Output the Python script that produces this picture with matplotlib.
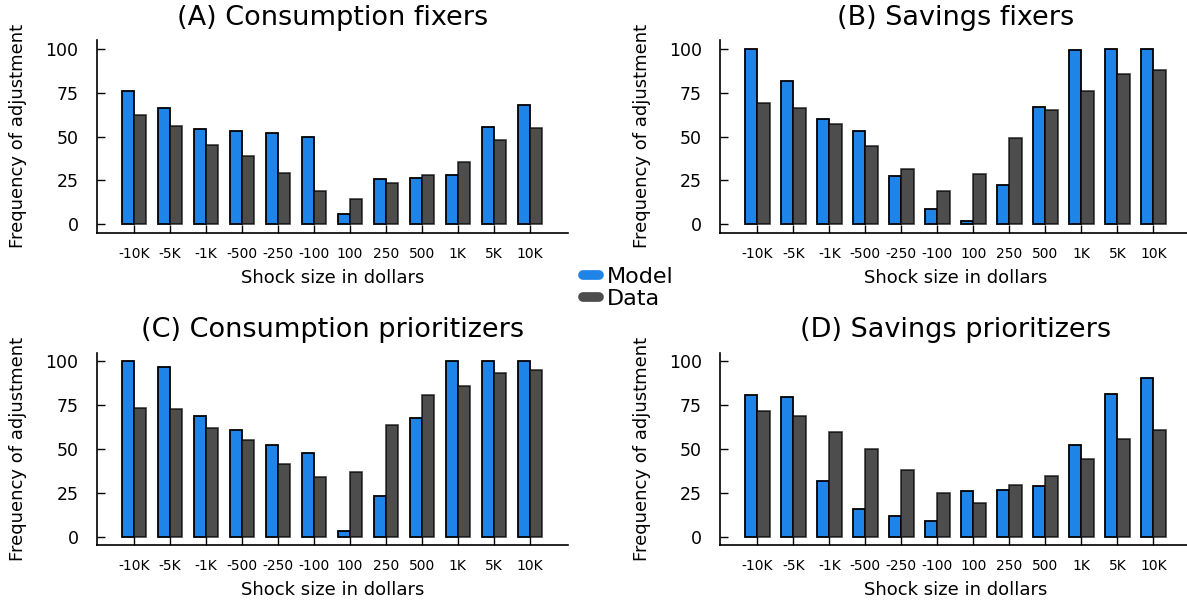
import matplotlib.pyplot as plt
import numpy as np
from matplotlib.lines import Line2D

model_blue = '#1f84e8'
data_gray = '#4d4d4d'

shocks = ['-10K', '-5K', '-1K', '-500', '-250', '-100', '100', '250', '500', '1K', '5K', '10K']
titles = ['(A) Consumption fixers', '(B) Savings fixers',
          '(C) Consumption prioritizers', '(D) Savings prioritizers']

# model vs data frequency of adjustment (%) per shock size
model_a = [76.2, 66.2, 54.2, 53.0, 52.1, 50.0, 5.9, 26.0, 26.2, 28.3, 55.5, 67.7]
data_a = [62.5, 55.9, 44.9, 38.8, 29.1, 19.0, 14.6, 23.6, 28.3, 35.6, 48.3, 54.8]
model_b = [100, 81.7, 60.1, 53.2, 27.6, 8.9, 1.9, 22.1, 66.7, 99.6, 100, 100]
data_b = [69.2, 66.2, 57.2, 44.7, 31.4, 18.8, 28.5, 48.9, 65.4, 75.7, 85.4, 88.2]
model_c = [100, 97.1, 68.8, 60.6, 52.5, 47.7, 3.0, 23.2, 67.7, 100, 100, 100]
data_c = [73.4, 73.0, 62.2, 54.9, 41.3, 33.8, 36.7, 63.9, 81.0, 86.1, 93.7, 95.4]
model_d = [80.8, 79.7, 31.9, 15.8, 11.8, 8.9, 26.2, 26.4, 28.9, 52.3, 81.4, 90.5]
data_d = [71.9, 68.6, 59.7, 50.2, 38.0, 24.7, 19.2, 29.7, 34.6, 44.5, 55.7, 61.0]

models = [model_a, model_b, model_c, model_d]
datas = [data_a, data_b, data_c, data_d]

# axes rectangles in figure fractions (left, bottom, width, height)
rects = [(0.0813, 0.6135, 0.3972, 0.320),
         (0.6066, 0.6135, 0.3972, 0.320),
         (0.0813, 0.0947, 0.3972, 0.3194),
         (0.6066, 0.0947, 0.3972, 0.3194)]

fig = plt.figure(figsize=(11.87, 6.02), dpi=100)
x = np.arange(len(shocks))
bw = 0.34

for i in range(4):
    ax = fig.add_axes(rects[i])
    ax.bar(x - bw/2, models[i], width=bw, color=model_blue, edgecolor='black', linewidth=1.3, zorder=2)
    ax.bar(x + bw/2, datas[i], width=bw, color=data_gray, edgecolor=(0, 0, 0, 0.75), linewidth=1.2, zorder=2)
    ax.set_xlim(-1.04, 12.06)
    ax.set_ylim(-4.8, 105)
    ax.set_xticks(x)
    ax.set_xticklabels(shocks, fontsize=10)
    ax.set_yticks([0, 25, 50, 75, 100])
    ax.tick_params(axis='y', labelsize=12.5, direction='in', length=6, width=1, pad=13)
    ax.tick_params(axis='x', direction='in', length=6, width=1, pad=10)
    for s in ['top', 'right']:
        ax.spines[s].set_visible(False)
    ax.spines['left'].set_linewidth(1.2)
    ax.spines['bottom'].set_linewidth(1.2)
    ax.set_title(titles[i], fontsize=19.5, pad=11)
    ax.set_xlabel('Shock size in dollars', fontsize=13, labelpad=6)
    ax.set_ylabel('Frequency of adjustment', fontsize=13, va='center')
    ax.yaxis.set_label_coords(-0.1655, 0.5)

handles = [Line2D([0], [0], color=model_blue, lw=7, solid_capstyle='round'),
           Line2D([0], [0], color=data_gray, lw=7, solid_capstyle='round')]
fig.legend(handles, ['Model', 'Data'], loc='center left', bbox_to_anchor=(0.482, 0.522),
           frameon=False, fontsize=16, handlelength=0.7, handletextpad=0.35,
           labelspacing=0.1, borderpad=0)

fig.savefig('out.png', dpi=100)
